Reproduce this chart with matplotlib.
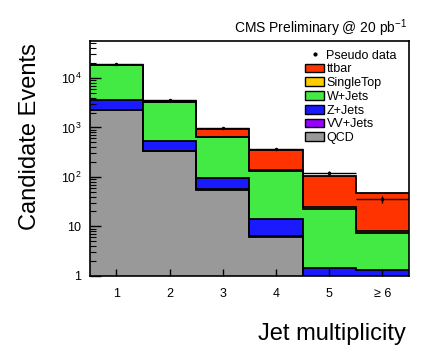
import numpy as np
import matplotlib
matplotlib.use("Agg")
from matplotlib import pyplot as plt
from matplotlib.ticker import LogLocator, FixedLocator, NullFormatter
from matplotlib.patches import Patch
from matplotlib.lines import Line2D

plt.rcParams["font.family"] = ["Liberation Sans", "DejaVu Sans"]
plt.rcParams["mathtext.fontset"] = "custom"
plt.rcParams["mathtext.rm"] = "Liberation Sans"
plt.rcParams["mathtext.it"] = "Liberation Sans"

# bins: jet multiplicity 1..>=6
bin_labels = ["1", "2", "3", "4", "5", "\u2265 6"]

# contributions per bin (stacked from the bottom: QCD first)
qcd = [2240, 335, 55, 6.1, 0.1, 0.05]
vv = [5, 3, 1, 0.3, 0.1, 0.05]
zjets = [1360, 200, 40, 7.6, 1.25, 1.2]
wjets = [14700, 2765, 545, 118, 21, 6.1]
singletop = [40, 20, 10, 3, 2.3, 0.5]
ttbar = [30, 40, 290, 215, 80, 40]

pseudo_data = [19000, 3600, 980, 370, 120, 36]

capas = [
    ("QCD", qcd, "#999999"),
    ("VV+Jets", vv, "#9900ff"),
    ("Z+Jets", zjets, "#1a1aff"),
    ("W+Jets", wjets, "#44ea44"),
    ("SingleTop", singletop, "#ffcc00"),
    ("ttbar", ttbar, "#ff3300"),
]

fig = plt.figure(figsize=(4.36, 3.62), dpi=100)
ax = fig.add_axes([0.206, 0.238, 0.732, 0.649])

n = len(bin_labels)
bordes = np.arange(n + 1) + 0.5
centros = np.arange(1, n + 1)

# rellenos apilados
abajo = np.zeros(n)
tops = []
colores = {}
for nombre, valores, color in capas:
    arriba = abajo + np.array(valores, dtype=float)
    ax.stairs(arriba, bordes, baseline=abajo, fill=True, facecolor=color,
              edgecolor="none")
    colores[nombre] = color
    tops.append(arriba)
    abajo = arriba

# contornos negros de cada capa
for arriba in tops:
    ax.stairs(arriba, bordes, baseline=None, color="black", lw=1.3)

# pseudo datos
datos = np.array(pseudo_data, dtype=float)
ax.errorbar(centros, datos, yerr=np.sqrt(datos), xerr=0.5, fmt=".", color="black",
            ms=3, lw=1.0, capsize=0)

ax.set_yscale("log")
ax.set_ylim(1, 5.6e4)
ax.set_xlim(0.5, n + 0.5)

ax.yaxis.set_major_locator(FixedLocator([1, 10, 100, 1000, 10000]))
ax.set_yticklabels(["1", "10", "$10^{2}$", "$10^{3}$", "$10^{4}$"])
ax.yaxis.set_minor_locator(LogLocator(base=10, subs=np.arange(2, 10)))
ax.yaxis.set_minor_formatter(NullFormatter())
ax.tick_params(axis="y", which="major", direction="in", length=8, width=1, labelsize=9, pad=6)
ax.tick_params(axis="y", which="minor", direction="in", length=4, width=0.8)

ax.set_xticks(centros)
ax.set_xticklabels(bin_labels)
ax.tick_params(axis="x", which="major", direction="in", length=5, width=1, labelsize=9, pad=9)

for s in ax.spines.values():
    s.set_linewidth(1.2)

# titulos de ejes
fig.text(0.069, 0.624, "Candidate Events", fontsize=17, rotation=90,
         ha="center", va="center")
fig.text(0.93, 0.061, "Jet multiplicity", fontsize=17, ha="right", va="baseline")
fig.text(0.935, 0.91, "CMS Preliminary @ 20 pb$^{-1}$", fontsize=10, ha="right",
         va="baseline")

# leyenda
orden = ["ttbar", "SingleTop", "W+Jets", "Z+Jets", "VV+Jets", "QCD"]
elems = [Line2D([], [], marker=".", color="black", ls="none", ms=4)]
for nombre in orden:
    elems.append(Patch(facecolor=colores[nombre], edgecolor="black", lw=1))
ax.legend(elems, ["Pseudo data"] + orden, loc="upper left",
          bbox_to_anchor=(0.70, 0.863), bbox_transform=fig.transFigure,
          frameon=False, fontsize=9, handlelength=1.5, handleheight=0.7,
          handletextpad=0.2, labelspacing=0.14, borderpad=0, borderaxespad=0)

fig.savefig("out.png", dpi=100)
